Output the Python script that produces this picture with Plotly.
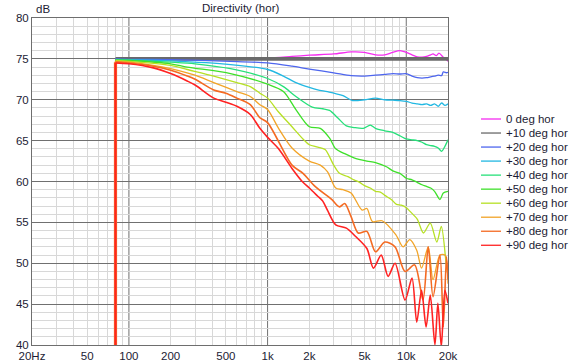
import plotly.graph_objects as go

# ---------------- data ----------------
series_names = ["0 deg hor", "+10 deg hor", "+20 deg hor", "+30 deg hor", "+40 deg hor",
                "+50 deg hor", "+60 deg hor", "+70 deg hor", "+80 deg hor", "+90 deg hor"]

freq_0 = [80, 80, 100, 200, 500, 1000, 1500, 2000, 3000, 4000, 5000, 6000, 7000, 8000, 9000, 10000,
          11000, 12000, 13000, 14000, 15000, 15600, 16500, 17200, 18500, 19500, 20000]
db_0 = [40, 75.0, 75.0, 75.0, 75.0, 75.1, 75.3, 75.45, 75.6, 75.85, 75.8, 75.5, 75.5, 75.8, 76.0, 75.8,
        75.5, 75.25, 75.2, 75.3, 75.5, 75.6, 75.4, 75.7, 75.2, 74.9, 74.7]

freq_10 = [80, 80, 20000]
db_10 = [75.0, 75.0, 75.0]

freq_20 = [80, 80, 100, 200, 540, 1000, 1500, 2000, 3000, 4000, 5000, 6000, 7000, 8000, 9000, 10000,
           11000, 12000, 13000, 14000, 15000, 16000, 17000, 18000, 18500, 19500, 20000]
db_20 = [40, 75.0, 74.95, 74.9, 74.7, 74.5, 74.1, 73.75, 73.3, 72.95, 72.9, 73.0, 73.1, 73.2, 73.15, 73.2,
         72.9, 72.7, 72.65, 72.7, 72.8, 72.9, 73.0, 72.95, 73.4, 73.3, 73.35]

freq_30 = [80, 80, 100, 200, 540, 1000, 1300, 1600, 2000, 2300, 2700, 3000, 3500, 4100, 5000, 6000,
           7000, 8000, 9000, 10000, 11000, 12000, 13000, 14000, 15000, 16000, 17000, 18000, 19000, 20000]
db_30 = [40, 74.95, 74.9, 74.75, 74.3, 73.7, 72.9, 72.1, 71.5, 71.2, 71.0, 70.8, 70.5, 69.9, 70.0, 70.2,
         70.0, 69.95, 69.9, 69.8, 69.6, 69.5, 69.4, 69.5, 69.3, 69.5, 69.2, 69.6, 69.3, 69.5]

freq_40 = [80, 80, 100, 200, 300, 540, 1000, 1300, 1600, 2100, 2500, 2800, 3200, 3700, 4200, 4900,
           5500, 6000, 7000, 8000, 9000, 10000, 11000, 12000, 13000, 14000, 15000, 16000, 17000, 18000,
           19000, 20000]
db_40 = [40, 74.9, 74.85, 74.6, 74.4, 73.8, 72.6, 71.6, 70.4, 69.1, 68.9, 68.7, 67.8, 66.8, 66.6, 66.5,
         66.9, 66.5, 66.2, 66.0, 65.6, 65.2, 65.1, 65.0, 64.8, 64.5, 64.4, 64.3, 64.1, 63.7, 64.3, 65.1]

freq_50 = [80, 80, 100, 200, 263, 540, 1000, 1300, 1600, 2000, 2400, 2800, 3100, 3600, 4200, 5200,
           6000, 7200, 8000, 9000, 10000, 11000, 12000, 13000, 14000, 15000, 16000, 17500, 18500, 20000]
db_50 = [40, 74.85, 74.8, 74.4, 74.0, 73.2, 71.9, 71.0, 68.8, 66.7, 66.5, 65.3, 64.0, 63.4, 62.9, 62.5,
         62.3, 61.8, 61.3, 61.0, 60.4, 60.2, 59.9, 59.6, 59.4, 59.2, 58.8, 57.8, 58.6, 58.8]

freq_60 = [80, 80, 100, 200, 263, 409, 600, 750, 880, 1000, 1200, 1500, 1800, 2000, 2300, 2600, 3000,
           3300, 3800, 4200, 4600, 5000, 5500, 6000, 6500, 7000, 7800, 8500, 9200, 10000, 11000, 12000,
           13300, 14900, 16600, 17900, 19500, 20000]
db_60 = [40, 74.8, 74.7, 74.2, 73.7, 72.9, 72.1, 71.6, 70.8, 70.2, 68.5, 66.7, 65.2, 64.5, 64.2, 63.9, 62.0,
         61.0, 60.6, 60.2, 59.9, 59.5, 59.2, 58.8, 58.7, 58.3, 57.8, 57.2, 57.1, 56.8, 56.1, 55.4,
         53.7, 54.9, 52.6, 54.5, 49.6, 48.5]

freq_70 = [80, 80, 100, 150, 200, 263, 300, 409, 600, 750, 880, 1000, 1200, 1500, 2000, 2400, 2700,
           3100, 3500, 4000, 4800, 5200, 5700, 6700, 8400, 9500, 10600, 11900, 12900, 14400, 15600,
           17500, 19000, 20000]
db_70 = [40, 74.7, 74.6, 74.2, 73.8, 73.3, 73.0, 72.1, 71.0, 70.4, 69.4, 68.8, 66.5, 64.1, 62.5, 62.0, 61.2,
         59.2, 59.0, 58.6, 56.5, 56.7, 55.1, 55.2, 53.5, 52.0, 52.9, 51.6, 49.4, 52.0, 48.0,
         51.0, 51.0, 47.5]

freq_80 = [80, 80, 100, 150, 200, 263, 300, 409, 500, 600, 750, 880, 1000, 1500, 1800, 2200, 2900,
           3300, 3600, 4000, 4500, 5200, 6000, 7000, 8300, 9800, 11500, 13200, 14400, 15600, 17500,
           18500, 19500, 20000]
db_80 = [40, 74.6, 74.5, 74.1, 73.6, 72.9, 72.5, 71.2, 70.8, 70.2, 69.4, 67.8, 67.2, 62.0, 61.0, 59.4, 57.8,
         56.9, 57.3, 55.7, 53.7, 53.9, 51.4, 52.6, 52.0, 49.0, 49.8, 45.5, 52.0, 45.9, 51.0,
         42.2, 50.8, 48.0]

freq_90 = [80, 80, 100, 150, 200, 263, 300, 409, 500, 600, 750, 880, 1000, 1200, 1500, 1800, 2000,
           2300, 2500, 2700, 3100, 3700, 4300, 5200, 5800, 6600, 7400, 8300, 9800, 11000, 11900,
           12900, 13900, 14900, 16100, 16900, 17900, 19000, 20000]
db_90 = [40, 74.5, 74.4, 73.9, 73.2, 72.3, 71.8, 70.2, 69.7, 69.2, 68.2, 66.5, 65.4, 64.0, 61.6, 59.9, 59.2,
         58.2, 57.6, 56.5, 54.7, 54.3, 53.3, 51.8, 49.4, 51.0, 48.4, 50.0, 45.5, 48.2, 42.8,
         46.7, 42.2, 46.1, 40.0, 45.1, 39.8, 46.7, 45.1]

x_tick_vals = [20, 50, 100, 200, 500, 1000, 2000, 5000, 10000, 20000]
x_tick_text = ["20Hz", "50", "100", "200", "500", "1k", "2k", "5k", "10k", "20k"]
x_minor_vals = [30, 40, 50, 60, 70, 80, 90, 200, 300, 400, 500, 600, 700, 800, 900,
                2000, 3000, 4000, 5000, 6000, 7000, 8000, 9000]
x_decades = [100, 1000, 10000]
y_tick_vals = [40, 45, 50, 55, 60, 65, 70, 75, 80]

# ---------------- styles ----------------
freqs = [freq_0, freq_10, freq_20, freq_30, freq_40, freq_50, freq_60, freq_70, freq_80, freq_90]
dbs = [db_0, db_10, db_20, db_30, db_40, db_50, db_60, db_70, db_80, db_90]
colors = ["#f52cf0", "#6a6a6a", "#4e66ee", "#22b8e2", "#26e07a", "#3ee02a",
          "#b6e024", "#f2a428", "#f46a22", "#ff2222"]
widths = [1.3, 3.6, 1.3, 1.3, 1.3, 1.3, 1.3, 1.3, 1.6, 1.6]
drop_widths = [1.0, 0, 1.0, 1.0, 1.0, 1.0, 1.0, 1.5, 3.2, 1.8]

W, H = 572, 364
L, R, T, B = 32, 448, 18, 345
PW, PH = R - L, B - T

def px2paper_x(px):
    return (px - L) / PW

def px2paper_y(py):
    return (B - py) / PH

fig = go.Figure()
# low-frequency cut-off edge of each response (straight)
for f, d, c, w in zip(freqs, dbs, colors, drop_widths):
    if w > 0:
        fig.add_trace(go.Scatter(x=f[:2], y=d[:2], mode="lines",
                                 line=dict(color=c, width=w),
                                 showlegend=False, hoverinfo="skip"))
# the responses themselves
for f, d, c, w, n in zip(freqs, dbs, colors, widths, series_names):
    fig.add_trace(go.Scatter(x=f[1:], y=d[1:], mode="lines", name=n,
                             line=dict(color=c, width=w, shape="spline", smoothing=0.8,
                                       simplify=False),
                             showlegend=False, hoverinfo="skip"))

font_family = "Liberation Sans, Arial, sans-serif"
text_color = "#1c1c34"

shapes = []
for dv in x_decades:
    shapes.append(dict(type="line", xref="x", yref="paper", x0=dv, x1=dv, y0=0, y1=1,
                       line=dict(color="#707070", width=1), layer="between"))

annotations = [
    dict(text="Directivity (hor)", xref="paper", yref="paper", x=0.5, y=px2paper_y(8),
         xanchor="center", yanchor="middle", showarrow=False,
         font=dict(size=11.5, color=text_color, family=font_family)),
    dict(text="dB", xref="paper", yref="paper", x=px2paper_x(34), y=px2paper_y(9),
         xanchor="left", yanchor="middle", showarrow=False,
         font=dict(size=11.5, color=text_color, family=font_family)),
]

# legend (drawn beside the plot)
for i, (n, c) in enumerate(zip(series_names, colors)):
    ypx = 119 + 14.03 * i
    shapes.append(dict(type="line", xref="paper", yref="paper",
                       x0=px2paper_x(481), x1=px2paper_x(501),
                       y0=px2paper_y(ypx), y1=px2paper_y(ypx),
                       line=dict(color=c, width=1.3)))
    annotations.append(dict(text=n, xref="paper", yref="paper",
                            x=px2paper_x(504), y=px2paper_y(ypx),
                            xanchor="left", yanchor="middle", showarrow=False,
                            font=dict(size=11.5, color=text_color, family=font_family)))

fig.update_layout(
    width=W, height=H,
    margin=dict(l=L, r=W - R, t=T, b=H - B, pad=0, autoexpand=False),
    paper_bgcolor="white", plot_bgcolor="white",
    showlegend=False,
    hovermode=False,
    font=dict(family=font_family, size=11.5, color=text_color),
    xaxis=dict(type="log", range=[1.30103, 4.30103], automargin=False,
               tickmode="array", tickvals=x_tick_vals, ticktext=x_tick_text,
               showgrid=False, zeroline=False, ticks="", ticklen=0,
               showline=True, mirror=True, linecolor="#6e6e6e", linewidth=1,
               tickfont=dict(size=11.5, color=text_color),
               minor=dict(tickmode="array", tickvals=x_minor_vals, showgrid=True,
                          gridcolor="#d8d8d8", gridwidth=1, ticks="")),
    yaxis=dict(range=[40, 80], tickmode="array", tickvals=y_tick_vals, automargin=False,
               showgrid=True, gridcolor="#707070", gridwidth=1, zeroline=False,
               ticks="", ticklen=0,
               showline=True, mirror=True, linecolor="#6e6e6e", linewidth=1,
               tickfont=dict(size=11.5, color=text_color),
               minor=dict(dtick=1, tick0=40, showgrid=True, gridcolor="#d8d8d8",
                          gridwidth=1, ticks="")),
    shapes=shapes,
    annotations=annotations,
)

fig.write_html("out.html", config={"displayModeBar": False, "staticPlot": True},
               post_script="document.body.style.margin='0';document.body.style.padding='0';")
